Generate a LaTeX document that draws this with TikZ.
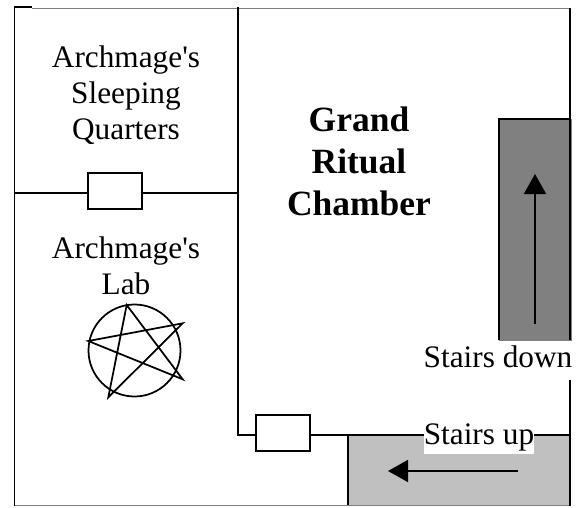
\documentclass[tikz,border=0pt]{standalone}
\usepackage{fontspec}
\usepackage{xcolor}
\usepackage{tikz}
\usetikzlibrary{arrows.meta}
\setmainfont{Liberation Serif}
\definecolor{stairlight}{HTML}{C0C0C0}
\definecolor{stairdark}{HTML}{808080}
\newcommand{\mage}{Archmage\textquotesingle s}
\tikzset{
	wall/.style={line width=1.75pt},
	outer/.style={line width=1pt,draw=gray},
	door/.style={draw,line width=1.75pt,fill=white,minimum width=54pt,minimum height=36pt,inner sep=0pt},
	room/.style={align=center,font=\fontsize{31.3}{36}\selectfont,inner sep=0pt},
	stairlabel/.style={font=\fontsize{31.3}{36}\selectfont,fill=white,inner sep=0pt,text depth=9pt,text height=24pt},
	flight/.style={line width=1.75pt,-{Triangle[length=20pt,width=22pt]}}
}
\begin{document}
\begin{tikzpicture}[x=1pt,y=-1pt]
	\useasboundingbox (0,0) rectangle (584,507);
	% stairs
	\fill[stairdark] (499,119) rectangle (571.5,340.5);
	\fill[stairlight] (348,435) rectangle (570,505);
	\draw[wall] (499,340) -- (499,119) -- (570,119) -- (570,340);
	\draw[wall] (348,505) -- (348,435);
	% outer walls
	\draw[outer] (32,8) -- (570,8);
	\draw[outer] (14,505.5) -- (570,505.5);
	\draw[wall] (32,7) -- (14.5,7) -- (14.5,506);
	\draw[wall] (570,8) -- (570,119);
	\draw[wall] (570,380) -- (570,506);
	% inner walls and doors
	\coordinate (hallnorth) at (238,7);
	\coordinate (hallcorner) at (238,435);
	\coordinate (labwest) at (14.5,193);
	\coordinate (labeast) at (238,193);
	\coordinate (stairseast) at (570,435);
	\node[door] (labdoor) at (115,191) {};
	\node[door] (halldoor) at (283,433) {};
	\draw[wall] (hallnorth) -- (hallcorner) -- (hallcorner -| halldoor.west);
	\draw[wall] (hallcorner -| halldoor.east) -- (stairseast);
	\draw[wall] (labwest) -- (labwest -| labdoor.west);
	\draw[wall] (labeast -| labdoor.east) -- (labeast);
	% pentagram
	\draw[wall] (134.5,350.5) circle (46);
	\draw[wall] (126.7,305) -- (182.7,379.3) -- (88.3,341) -- (182.7,323.3) -- (108.3,397.3) -- cycle;
	% arrows
	\coordinate (downfoot) at (535,324);
	\coordinate (downhead) at (535,174);
	\coordinate (upfoot) at (518,471);
	\coordinate (uphead) at (388,471);
	\draw[flight] (downfoot) -- (downhead);
	\draw[flight] (upfoot) -- (uphead);
	% labels
	\node[room] (sleeping) at (126,95) {\mage\\Sleeping\\Quarters};
	\node[room] (lab) at (126,266) {\mage\\Lab};
	\node[room,font=\bfseries\fontsize{35.5}{42}\selectfont] (chamber) at (359,161) {Grand\\Ritual\\Chamber};
	\node[stairlabel] (stairsdown) at (498,360) {Stairs down};
	\node[stairlabel] (stairsup) at (479,437) {Stairs up};
\end{tikzpicture}
\end{document}
